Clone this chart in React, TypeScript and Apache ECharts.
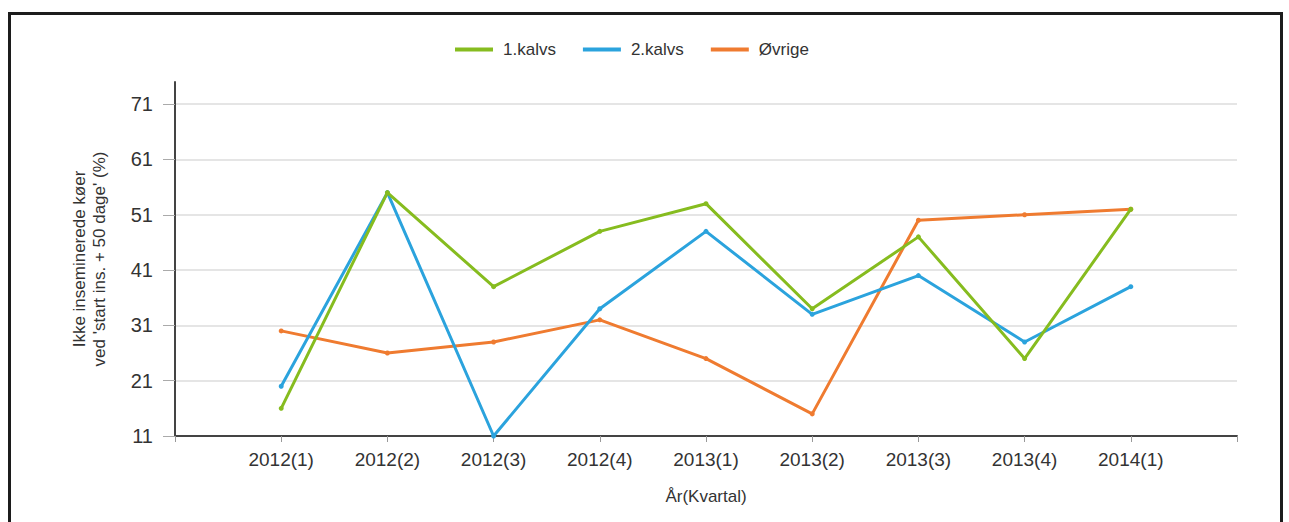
import React, { useEffect, useRef } from "react";
import * as echarts from "echarts";

const categories = ["2012(1)", "2012(2)", "2012(3)", "2012(4)", "2013(1)", "2013(2)", "2013(3)", "2013(4)", "2014(1)"];
const kalvs1 = [16, 55, 38, 48, 53, 34, 47, 25, 52];
const kalvs2 = [20, 55, 11, 34, 48, 33, 40, 28, 38];
const ovrige = [30, 26, 28, 32, 25, 15, 50, 51, 52];
const yTicks = [11, 21, 31, 41, 51, 61, 71];
const seriesNames = ["1.kalvs", "2.kalvs", "Øvrige"];
const colors = ["#86bc1f", "#2ba3dd", "#ef7b30"];

const FONT = "'Liberation Sans', Arial, sans-serif";

export default function App() {
  const ref = useRef<HTMLDivElement>(null);
  useEffect(() => {
    if (!ref.current) return;
    const chart = echarts.init(ref.current, null, { renderer: "svg" });
    const cats = ["", ...categories, ""];
    const pad = (a: number[]) => [null, ...a, null];
    const legendWidths = [58, 68, 58];
    chart.setOption({
      animation: false,
      backgroundColor: "#ffffff",
      textStyle: { fontFamily: FONT },
      graphic: [
        {
          type: "rect",
          shape: { x: 9.5, y: 13.5, width: 1272, height: 600 },
          style: { fill: "none", stroke: "#1c1c1c", lineWidth: 3 },
          silent: true,
          z: 100,
        },
      ],
      legend: {
        left: 450,
        top: 36,
        icon: "rect",
        itemWidth: 38,
        itemHeight: 4,
        itemGap: 27,
        data: seriesNames.map((n, i) => ({
          name: n,
          textStyle: {
            width: legendWidths[i],
            padding: [0, 0, 0, 5],
            fontSize: 17,
            color: "#333",
            fontFamily: FONT,
          },
        })),
      },
      grid: { left: 175, right: 52, top: 82, bottom: 86 },
      xAxis: {
        type: "category",
        data: cats,
        boundaryGap: false,
        name: "År(Kvartal)",
        nameLocation: "middle",
        nameGap: 52,
        nameTextStyle: { fontSize: 17, color: "#333", fontFamily: FONT },
        axisLine: { lineStyle: { color: "#444", width: 2 } },
        axisTick: { show: true, length: 6, lineStyle: { color: "#999" }, interval: 0 },
        axisLabel: { fontSize: 19, color: "#333", margin: 14, interval: 0, fontFamily: FONT },
        splitLine: { show: false },
      },
      yAxis: {
        type: "value",
        min: 11,
        max: 75,
        interval: 10,
        name: "Ikke inseminerede køer\nved 'start ins. + 50 dage' (%)",
        nameLocation: "middle",
        nameGap: 66,
        nameTextStyle: { fontSize: 17, color: "#333", lineHeight: 20, fontFamily: FONT },
        axisLine: { show: true, lineStyle: { color: "#444", width: 2 } },
        axisTick: { show: true, length: 12, lineStyle: { color: "#aaa" }, customValues: yTicks },
        axisLabel: { fontSize: 20, color: "#333", margin: 22, customValues: yTicks, fontFamily: FONT },
        splitLine: { show: true, lineStyle: { color: "#dddddd", width: 1.5 } },
      },
      series: [kalvs1, kalvs2, ovrige].map((d, i) => ({
        name: seriesNames[i],
        type: "line",
        data: pad(d),
        connectNulls: false,
        symbol: "circle",
        symbolSize: 5,
        showSymbol: true,
        itemStyle: { color: colors[i] },
        lineStyle: { color: colors[i], width: 3 },
        z: 3 - i,
      })),
    });
    return () => chart.dispose();
  }, []);
  return (
    <div
      ref={ref}
      style={{ position: "fixed", left: 0, top: 0, width: 1289, height: 522 }}
    />
  );
}
